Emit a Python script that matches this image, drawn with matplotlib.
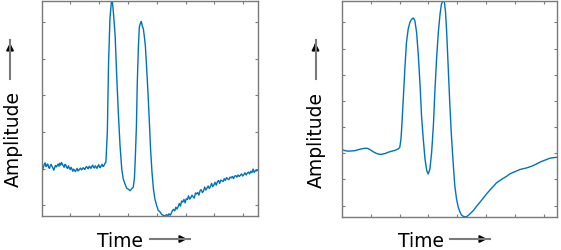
import numpy as np
import matplotlib.pyplot as plt
from matplotlib.patches import FancyArrowPatch

# left panel: noisy recording (samples, amplitude), in three stretches
t_base = list(range(0, 220, 3))
a_base = [10.0, 9.6, 10.4, 11.2, 11.6, 10.6, 11.0, 11.3, 10.4, 10.1,
          10.9, 11.2, 10.6, 10.2, 9.6, 10.3, 10.9, 10.5, 10.9, 11.3,
          10.7, 11.5, 11.0, 11.7, 11.2, 10.8, 10.4, 11.2, 11.0, 10.3,
          10.1, 10.8, 10.2, 9.8, 10.4, 9.9, 9.3, 9.9, 9.6, 9.2,
          9.7, 10.1, 9.4, 9.6, 9.9, 10.2, 9.7, 9.9, 10.3, 10.0,
          9.8, 10.4, 10.6, 10.2, 10.0, 10.7, 10.5, 10.1, 10.6, 11.0,
          10.4, 10.2, 10.8, 10.5, 10.1, 10.7, 11.1, 10.4, 10.3, 10.9,
          11.2, 10.6, 10.8, 11.4]
t_peak = [223, 228, 232, 237, 242, 244, 249, 255, 260, 266, 272, 278, 283, 289, 295,
          301, 307, 312, 318, 322, 325, 329, 332, 336, 339, 343, 346, 349, 353, 356,
          360, 364, 369, 374, 378, 383, 388, 393, 399, 405, 411, 417, 422, 428]
a_peak = [11.8, 20.0, 38.2, 50.9, 55.9, 57.0, 52.7, 46.4, 36.4, 25.5, 16.4, 10.0, 7.3,
          5.9, 4.7, 4.4, 4.0, 4.5, 5.0, 7.3, 12.7, 21.8, 33.6, 43.6, 48.6, 49.8, 50.2,
          49.1, 48.2, 46.4, 43.6, 38.2, 30.9, 22.7, 15.5, 9.1, 4.5, 1.8, 0.0, -1.4,
          -1.8, -2.5, -2.7, -2.9]
t_tail = list(range(434, 751, 4))
a_tail = [-2.5, -2.9, -2.3, -2.7, -2.2, -1.4, -1.1, -1.5, -0.5, -1.0,
          -0.3, 0.5, -0.2, 1.2, 0.9, 1.6, 0.7, 1.8, 1.6, 2.6,
          1.7, 2.1, 2.8, 2.3, 2.0, 3.4, 3.1, 3.5, 2.8, 4.0,
          4.3, 3.5, 3.9, 5.0, 4.2, 4.7, 5.3, 4.6, 5.2, 6.0,
          5.1, 5.6, 6.3, 5.5, 6.4, 6.8, 6.0, 6.9, 6.7, 6.5,
          7.3, 6.8, 7.6, 7.2, 7.0, 7.7, 7.5, 7.9, 7.3, 8.0,
          8.1, 7.7, 8.3, 7.9, 8.2, 8.6, 8.0, 8.4, 8.9, 8.3,
          8.8, 9.1, 8.6, 9.3, 8.9, 9.9, 9.0, 9.5, 9.4, 9.6]

# right panel: smoothed recording
t_smooth = [0, 12, 23, 35, 46, 58, 69, 81, 89, 98, 109, 121, 132, 138, 150, 161, 173,
            184, 196, 201, 205, 208, 213, 219, 224, 230, 236, 242, 248, 253, 259, 265,
            271, 276, 282, 288, 294, 299, 305, 311, 317, 322, 328, 334, 340, 345, 351,
            355, 359, 363, 368, 374, 380, 386, 391, 397, 403, 409, 414, 420, 426, 432,
            437, 443, 455, 466, 478, 489, 501, 512, 524, 535, 547, 558, 570, 581, 593,
            604, 616, 639, 650, 662, 673, 685, 696, 708, 719, 731, 745]
a_smooth = [21.4, 21.0, 20.8, 20.9, 21.0, 21.4, 21.7, 21.9, 21.9, 21.4, 20.6, 19.9,
            19.6, 19.6, 19.9, 20.4, 20.8, 21.1, 21.7, 22.3, 25.5, 30.6, 40.8, 53.5, 62.4,
            67.5, 70.1, 71.3, 71.7, 70.7, 66.2, 57.3, 45.9, 34.4, 25.5, 17.8, 13.4, 12.1,
            14.0, 20.4, 30.6, 43.3, 56.1, 66.2, 73.2, 77.1, 78.3, 77.9, 73.9, 66.2, 53.5,
            38.2, 25.5, 15.3, 7.6, 2.5, -0.6, -2.5, -3.6, -4.1, -4.3, -4.2, -3.8, -3.2,
            -1.9, -0.3, 1.3, 2.8, 4.5, 5.9, 7.3, 8.7, 9.6, 10.4, 11.2, 12.1, 12.7, 13.2,
            13.8, 14.4, 14.8, 15.3, 15.9, 16.6, 17.1, 17.6, 18.1, 18.3, 18.5]

t_raw = t_base + t_peak + t_tail
a_raw = a_base + a_peak + a_tail

blue = '#0072BD'
grey = '#7a7a7a'

fig = plt.figure(figsize=(5.61, 2.51), dpi=100)
ax1 = fig.add_axes([0.0743, 0.1355, 0.385, 0.858])
ax2 = fig.add_axes([0.609, 0.130, 0.3843, 0.863])

ax1.plot(t_raw, a_raw, c=blue, linewidth=1)
ax1.set_xlim(0, 750)
ax1.set_ylim(-2.9, 55.9)
ax1.set_xticks(np.arange(100, 800, 100))
ax1.set_yticks(np.arange(0, 60, 10))

ax2.plot(t_smooth, a_smooth, c=blue, linewidth=1)
ax2.set_xlim(0, 745)
ax2.set_ylim(-4.5, 78.3)
ax2.set_xticks(np.arange(100, 800, 100))
ax2.set_yticks(np.arange(0, 80, 10))

for ax in (ax1, ax2):
    ax.tick_params(direction='in', length=2.5, width=0.8, color=grey,
                   top=True, right=True, labelbottom=False, labelleft=False)
    for sp in ax.spines.values():
        sp.set_color(grey)
        sp.set_linewidth(1)

W, H = 561, 251
fs = 13.5
# axis labels with arrows
for xc in (120, 420.5):
    fig.text(xc / W, 4 / H, 'Time', ha='center', va='baseline', fontsize=fs)
for xc, yc in ((13, 139), (316.5, 140)):
    fig.text(xc / W, (H - yc) / H, 'Amplitude', ha='center', va='center',
             rotation=90, fontsize=fs)

def arrow(x0, y0, x1, y1):
    fig.add_artist(plt.Line2D([x0 / W, x1 / W], [(H - y0) / H, (H - y1) / H],
                              color=grey, linewidth=1.5, transform=fig.transFigure))
    fig.add_artist(FancyArrowPatch(
        ((x0 + (x1 - x0) * 0.8) / W, (H - (y0 + (y1 - y0) * 0.8)) / H),
        (x1 / W, (H - y1) / H), arrowstyle='-|>', mutation_scale=11,
        color='black', linewidth=1.2, transform=fig.transFigure))

arrow(150, 240, 190, 240)
arrow(450, 240, 490, 240)
arrow(10, 80, 10, 41)
arrow(315.5, 80, 315.5, 41)

plt.savefig('out.png', dpi=100)
